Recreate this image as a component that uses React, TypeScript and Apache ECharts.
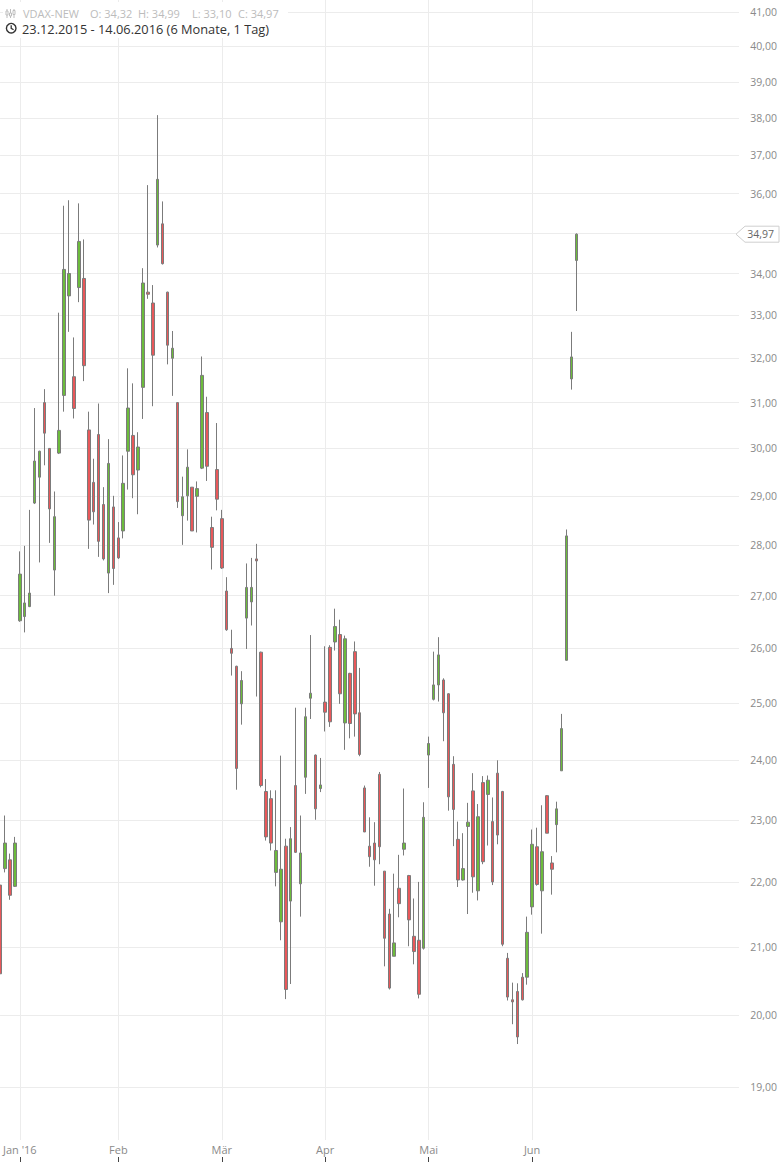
import React, { useEffect, useRef } from "react";
import * as echarts from "echarts";

// Trading days (day numbers per month)
const tradingDays: [number, number, number[]][] = [
  [2015, 12, [23, 28, 29, 30]],
  [2016, 1, [4, 5, 6, 7, 8, 11, 12, 13, 14, 15, 18, 19, 20, 21, 22, 25, 26, 27, 28, 29]],
  [2016, 2, [1, 2, 3, 4, 5, 8, 9, 10, 11, 12, 15, 16, 17, 18, 19, 22, 23, 24, 25, 26, 29]],
  [2016, 3, [1, 2, 3, 4, 7, 8, 9, 10, 11, 14, 15, 16, 17, 18, 21, 22, 23, 24, 29, 30, 31]],
  [2016, 4, [1, 4, 5, 6, 7, 8, 11, 12, 13, 14, 15, 18, 19, 20, 21, 22, 25, 26, 27, 28, 29]],
  [2016, 5, [2, 3, 4, 5, 6, 9, 10, 11, 12, 13, 17, 18, 19, 20, 23, 24, 25, 26, 27, 30, 31]],
  [2016, 6, [1, 2, 3, 6, 7, 8, 9, 10, 13, 14]],
];

const monthNames: Record<string, string> = {
  "2016-01": "Jan '16",
  "2016-02": "Feb",
  "2016-03": "Mär",
  "2016-04": "Apr",
  "2016-05": "Mai",
  "2016-06": "Jun",
};

const openVals = [
  21.95, 22.21, 22.35, 21.93, 26.52, 26.6, 26.79, 28.85, 29.39, 31.0,
  30.0, 27.5, 29.9, 31.16, 33.46, 31.58, 33.66, 33.88, 30.4, 29.28,
  30.3, 28.82, 27.44, 28.77, 28.14, 28.28, 29.94, 30.28, 29.54, 31.34,
  33.55, 33.29, 34.7, 35.23, 33.55, 32.0, 31.0, 28.59, 29.0, 29.18,
  28.99, 29.58, 30.78, 28.35, 29.55, 28.53, 27.09, 26.0, 25.67, 24.99,
  26.57, 26.88, 27.72, 25.93, 23.47, 23.35, 22.15, 21.38, 22.57, 21.7,
  23.57, 21.97, 23.71, 25.09, 24.09, 23.52, 25.02, 26.02, 26.12, 26.26,
  24.65, 25.54, 25.94, 24.83, 23.53, 22.57, 22.62, 23.76, 22.17, 21.5,
  20.86, 21.9, 22.52, 22.1, 21.16, 21.1, 20.98, 24.09, 25.07, 25.33,
  25.42, 25.17, 23.93, 22.68, 22.03, 22.89, 23.48, 21.86, 23.62, 23.42,
  22.97, 23.78, 23.47, 20.83, 20.22, 20.34, 20.55, 20.55, 21.61, 22.56,
  21.86, 23.4, 22.3, 22.92, 23.82, 25.78, 31.53, 34.32,
];
const closeVals = [
  20.6, 22.62, 21.79, 22.62, 27.42, 26.86, 27.05, 29.73, 29.94, 30.33,
  28.73, 28.57, 30.39, 34.1, 34.0, 30.87, 34.79, 31.83, 28.5, 28.67,
  28.07, 27.72, 29.68, 27.53, 27.74, 29.26, 30.88, 29.44, 30.03, 33.77,
  33.5, 32.07, 36.37, 34.24, 32.3, 32.23, 28.88, 28.98, 29.6, 28.28,
  29.15, 31.61, 29.62, 27.95, 28.93, 27.54, 26.35, 25.91, 23.86, 25.41,
  27.16, 27.16, 27.68, 23.57, 22.72, 22.62, 22.5, 22.2, 20.37, 22.69,
  22.47, 22.46, 24.76, 25.18, 23.18, 23.58, 24.84, 24.67, 26.41, 25.17,
  26.18, 24.64, 24.81, 24.1, 22.8, 22.4, 22.35, 22.56, 21.13, 20.39,
  21.06, 21.66, 22.62, 21.41, 20.93, 20.3, 23.04, 24.29, 25.33, 25.88,
  24.83, 23.38, 23.17, 22.03, 22.21, 22.96, 22.08, 23.05, 22.32, 23.66,
  22.0, 22.75, 21.04, 20.26, 20.19, 19.69, 20.22, 21.22, 22.6, 21.96,
  22.48, 22.78, 22.2, 23.18, 24.55, 28.18, 32.03, 34.97,
];
const lowVals = [
  20.55, 22.15, 21.72, 21.92, 26.5, 26.3, 26.78, 28.83, 27.65, 29.64,
  28.04, 27.0, 29.88, 30.8, 32.61, 30.65, 33.31, 31.48, 27.92, 28.41,
  27.76, 27.69, 27.05, 27.21, 27.72, 28.13, 29.13, 28.95, 28.62, 30.64,
  33.39, 30.92, 34.64, 34.22, 31.86, 31.15, 28.75, 28.0, 28.49, 28.28,
  28.25, 29.56, 29.31, 27.51, 28.7, 27.52, 26.33, 25.5, 23.5, 24.62,
  25.99, 26.43, 25.12, 23.54, 22.66, 22.5, 21.93, 21.1, 20.23, 20.45,
  22.46, 21.46, 23.43, 24.72, 23.0, 23.46, 24.5, 24.58, 25.96, 24.99,
  24.18, 24.38, 24.41, 24.07, 22.8, 22.24, 21.94, 22.28, 20.71, 20.37,
  20.86, 21.45, 22.42, 21.01, 20.74, 20.24, 20.96, 23.53, 25.05, 25.03,
  24.33, 23.15, 22.57, 21.92, 22.02, 21.5, 21.83, 21.71, 22.28, 22.58,
  21.95, 22.6, 21.01, 20.21, 19.87, 19.59, 20.21, 20.44, 21.49, 21.94,
  21.2, 22.78, 21.8, 22.47, 23.82, 25.77, 31.29, 33.1,
];
const highVals = [
  22.0, 23.07, 22.45, 22.72, 27.87, 27.98, 28.71, 30.88, 29.95, 31.3,
  30.0, 29.09, 33.06, 35.69, 35.83, 32.48, 35.75, 34.84, 30.8, 29.78,
  30.98, 29.18, 30.2, 29.0, 28.46, 29.85, 31.77, 31.43, 30.35, 34.13,
  36.22, 33.72, 38.08, 35.8, 33.56, 32.63, 31.0, 29.4, 29.98, 29.18,
  29.3, 32.04, 31.13, 28.57, 30.55, 28.71, 27.36, 26.35, 25.68, 25.58,
  27.63, 27.74, 28.02, 25.94, 23.68, 23.49, 23.49, 24.08, 22.69, 22.88,
  24.92, 23.07, 24.92, 26.25, 24.1, 24.04, 26.04, 26.06, 26.75, 26.54,
  26.24, 25.55, 26.13, 25.64, 23.57, 23.04, 22.96, 23.8, 22.17, 21.58,
  22.13, 22.43, 23.52, 22.11, 21.74, 22.0, 23.29, 24.41, 25.94, 26.21,
  25.45, 25.18, 24.07, 22.97, 22.78, 23.28, 23.78, 23.26, 23.73, 23.74,
  23.37, 24.0, 23.48, 20.91, 20.47, 20.46, 20.61, 21.46, 22.84, 22.87,
  23.24, 23.41, 22.41, 23.3, 24.81, 28.31, 32.61, 34.99,
];

const yTickValues = [19, 20, 21, 22, 23, 24, 25, 26, 27, 28, 29, 30, 31, 32, 33, 34, 35, 36, 37, 38, 39, 40, 41];
const futurePadding = 33; // empty trading-day slots right of the last candle
const axisMin = 18.29;
const axisMax = 41.35;

const GREEN = "#6cbb3c";
const RED = "#e8585a";
const WICK = "#7b7b7b";
const GRID = "#ececec";

const pad2 = (n: number) => (n < 10 ? "0" + n : "" + n);

export default function App() {
  const ref = useRef<HTMLDivElement>(null);

  useEffect(() => {
    document.body.style.margin = "0";
    if (!ref.current) return;
    const chart = echarts.init(ref.current, null, { renderer: "svg" });

    const dates: string[] = [];
    tradingDays.forEach(([y, m, days]) => {
      days.forEach((d) => dates.push(`${y}-${pad2(m)}-${pad2(d)}`));
    });
    const xData = dates.concat(Array.from({ length: futurePadding }, (_, i) => "pad" + i));

    const isMonthStart = (idx: number) =>
      idx > 0 && idx < dates.length && dates[idx].slice(0, 7) !== dates[idx - 1].slice(0, 7);

    const ohlc = openVals.map((o, i) => [
      Math.log(o),
      Math.log(closeVals[i]),
      Math.log(lowVals[i]),
      Math.log(highVals[i]),
    ]);
    const lastClose = closeVals[closeVals.length - 1];
    const yTicks = yTickValues.map((v) => Math.log(v));
    // the last-price tag covers the label right next to it
    const yLabelTicks = yTickValues
      .filter((v) => Math.abs(Math.log(v / lastClose)) > 0.012)
      .map((v) => Math.log(v));
    const fmtNum = (v: number) => v.toFixed(2).replace(".", ",");

    const font = "'Open Sans', sans-serif";

    chart.setOption({
      animation: false,
      grid: { left: 0, right: 40, top: 0, bottom: 22, containLabel: false },
      xAxis: [
        {
          type: "category",
          data: xData,
          boundaryGap: false,
          axisLine: { show: false },
          axisTick: { show: false },
          axisLabel: {
            interval: (idx: number) => isMonthStart(idx),
            formatter: (v: string) => monthNames[v.slice(0, 7)] || "",
            color: "#8a8a8a",
            fontSize: 11,
            fontFamily: font,
            margin: 4,
          },
          splitLine: {
            show: true,
            interval: (idx: number) => isMonthStart(idx),
            lineStyle: { color: GRID, width: 1 },
          },
        },
        {
          type: "category",
          data: xData,
          boundaryGap: false,
          position: "bottom",
          offset: 17,
          axisLine: { show: false },
          axisLabel: { show: false },
          splitLine: { show: false },
          axisTick: {
            show: true,
            interval: (idx: number) => isMonthStart(idx),
            length: 5,
            lineStyle: { color: "#444", width: 1 },
          },
        },
      ],
      yAxis: {
        type: "value",
        position: "right",
        min: Math.log(axisMin),
        max: Math.log(axisMax),
        axisLine: { show: false },
        axisTick: { show: false, customValues: yTicks },
        axisLabel: {
          customValues: yLabelTicks,
          formatter: (v: number) => fmtNum(Math.round(Math.exp(v))),
          align: "right",
          margin: 38,
          color: "#8a8a8a",
          fontSize: 10.5,
          fontFamily: font,
        },
        splitLine: { show: true, lineStyle: { color: GRID, width: 1 } },
      },
      series: [
        {
          type: "candlestick",
          xAxisIndex: 0,
          data: ohlc,
          barWidth: 3,
          itemStyle: {
            color: GREEN,
            color0: RED,
            borderColor: WICK,
            borderColor0: WICK,
            borderColorDoji: WICK,
            borderWidth: 1,
          },
        },
      ],
    });

    const yPix = chart.convertToPixel({ yAxisIndex: 0 }, Math.log(lastClose)) as number;

    chart.setOption({
      graphic: [
        // header background
        { type: "rect", z: 100, shape: { x: 3, y: 2, width: 285, height: 36 }, style: { fill: "#fff" } },
        // candle icon
        { type: "line", z: 101, shape: { x1: 7, y1: 9, x2: 7, y2: 18 }, style: { stroke: "#bdbdbd", lineWidth: 1 } },
        { type: "rect", z: 101, shape: { x: 6, y: 11, width: 2, height: 4 }, style: { fill: "#fff", stroke: "#bdbdbd", lineWidth: 1 } },
        { type: "line", z: 101, shape: { x1: 10.5, y1: 9, x2: 10.5, y2: 18 }, style: { stroke: "#bdbdbd", lineWidth: 1 } },
        { type: "rect", z: 101, shape: { x: 9.5, y: 13, width: 2, height: 3 }, style: { fill: "#fff", stroke: "#bdbdbd", lineWidth: 1 } },
        { type: "line", z: 101, shape: { x1: 14, y1: 9, x2: 14, y2: 18 }, style: { stroke: "#bdbdbd", lineWidth: 1 } },
        { type: "rect", z: 101, shape: { x: 13, y: 10.5, width: 2, height: 4 }, style: { fill: "#fff", stroke: "#bdbdbd", lineWidth: 1 } },
        // header line 1
        { type: "text", z: 101, x: 23, y: 13.5, style: { text: "VDAX-NEW", fill: "#bcbcbc", font: `11px ${font}`, textVerticalAlign: "middle" } },
        { type: "text", z: 101, x: 90, y: 13.5, style: { text: "O: 34,32", fill: "#bcbcbc", font: `11px ${font}`, textVerticalAlign: "middle" } },
        { type: "text", z: 101, x: 138, y: 13.5, style: { text: "H: 34,99", fill: "#bcbcbc", font: `11px ${font}`, textVerticalAlign: "middle" } },
        { type: "text", z: 101, x: 192, y: 13.5, style: { text: "L: 33,10", fill: "#bcbcbc", font: `11px ${font}`, textVerticalAlign: "middle" } },
        { type: "text", z: 101, x: 238, y: 13.5, style: { text: "C: 34,97", fill: "#bcbcbc", font: `11px ${font}`, textVerticalAlign: "middle" } },
        // clock icon
        { type: "circle", z: 101, shape: { cx: 11.2, cy: 28.2, r: 4.8 }, style: { fill: "none", stroke: "#333", lineWidth: 1.4 } },
        { type: "polyline", z: 101, shape: { points: [[11.2, 25.3], [11.2, 28.4], [13.6, 29.8]] }, style: { fill: "none", stroke: "#333", lineWidth: 1.3 } },
        // header line 2
        { type: "text", z: 101, x: 22, y: 28.5, style: { text: "23.12.2015 - 14.06.2016 (6 Monate, 1 Tag)", fill: "#333", font: `12.8px ${font}`, textVerticalAlign: "middle" } },
        // last price tag
        {
          type: "polygon",
          z: 110,
          shape: { points: [[736, yPix], [745, yPix - 8], [779, yPix - 8], [779, yPix + 8], [745, yPix + 8]] },
          style: { fill: "#fff", stroke: "#cfcfcf", lineWidth: 1 },
        },
        { type: "text", z: 111, x: 774, y: yPix, style: { text: fmtNum(lastClose), fill: "#666", font: `10.5px ${font}`, textAlign: "right", textVerticalAlign: "middle" } },
      ],
    });

    return () => chart.dispose();
  }, []);

  return <div ref={ref} style={{ width: 780, height: 1162 }} />;
}
